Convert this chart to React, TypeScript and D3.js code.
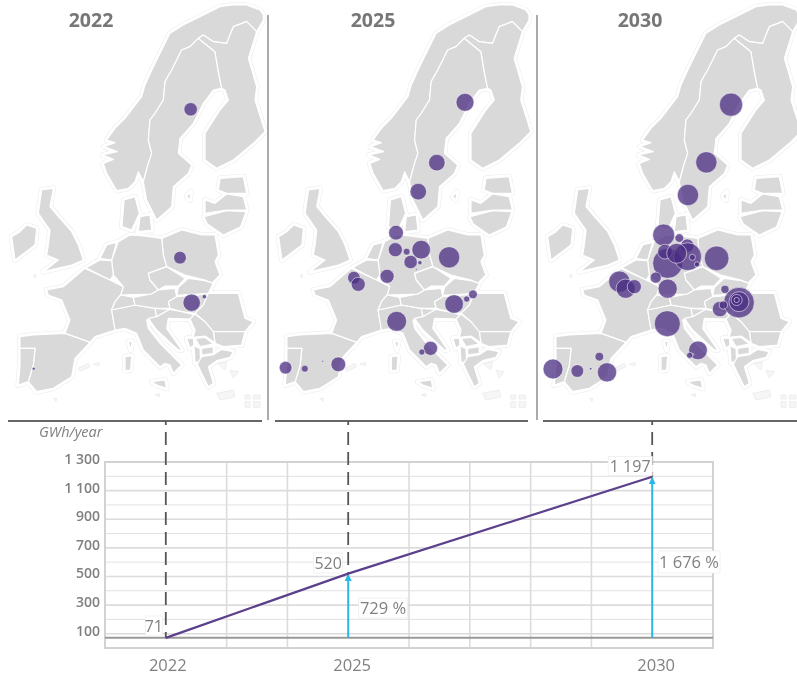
import React from "react";
import * as d3 from "d3";

// ---- chart data ----
const panelYears = ["2022", "2025", "2030"];
const yTicks = [100, 300, 500, 700, 900, 1100, 1300];
const yMinor = [200, 400, 600, 800, 1000, 1200];
const gridYears = [2023, 2024, 2026, 2027, 2028, 2029];
const lineYears = [2022, 2025, 2030];
const lineValues = [71, 520, 1197];
const yearLabels = ["2022", "2025", "2030"];
const valueLabels = ["71", "520", "1 197"];
const growthLabels = ["", "729 %", "1 676 %"];

// map units: sketch coordinates of a schematic map of Europe
type Pt = [number, number];
const norway: Pt[] = [[790,45],[780,30],[740,15],[700,15],[660,20],[600,50],[550,75],[510,100],[475,170],[460,200],[435,255],[425,290],[375,355],[345,385],[320,420],[345,428],[312,440],[352,455],[308,465],[340,478],[310,490],[320,520],[350,572],[385,565],[405,545],[415,515],[430,545],[445,490],[455,460],[445,420],[450,360],[465,340],[490,300],[495,245],[515,210],[545,150],[570,140],[595,115],[610,105],[640,125],[680,130],[700,80],[740,65],[770,95],[790,60]];
const sweden: Pt[] = [[595,115],[570,140],[545,150],[515,210],[495,245],[490,300],[465,340],[450,360],[445,420],[455,460],[445,490],[430,545],[440,600],[460,640],[470,660],[515,620],[520,560],[565,520],[575,495],[535,460],[540,415],[580,370],[610,310],[640,270],[665,265],[655,215],[645,155]];
const finland: Pt[] = [[665,265],[675,270],[685,300],[660,330],[615,400],[615,480],[650,505],[700,480],[760,430],[795,395],[765,300],[770,260],[745,175],[770,95],[740,65],[700,80],[680,130],[640,125],[610,105],[595,115],[645,155],[655,215]];
const estonia: Pt[] = [[660,535],[730,530],[740,580],[680,580],[655,570]];
const latvia: Pt[] = [[615,600],[645,610],[680,582],[730,590],[740,630],[680,630],[615,640]];
const lithuania: Pt[] = [[612,650],[680,632],[738,635],[722,680],[670,705],[622,672]];
const poland: Pt[] = [[485,715],[545,690],[605,705],[645,705],[655,765],[645,785],[660,825],[635,850],[615,840],[555,825],[500,800],[490,765]];
const germany: Pt[] = [[355,725],[390,705],[430,708],[485,715],[490,765],[500,800],[445,820],[450,840],[475,870],[455,882],[362,885],[370,860],[340,825],[335,780]];
const denmark: Pt[] = [[372,600],[405,590],[418,640],[395,690],[366,680]];
const denmarkIsland: Pt[] = [[420,650],[450,645],[455,690],[415,695]];
const netherlands: Pt[] = [[300,775],[320,735],[350,727],[335,780]];
const belgium: Pt[] = [[258,803],[300,780],[335,782],[340,825],[330,840]];
const france: Pt[] = [[140,870],[190,860],[255,805],[330,840],[370,860],[362,885],[345,905],[335,930],[345,990],[285,1010],[270,1027],[195,1000],[210,960],[185,900],[145,885]];
const spain: Pt[] = [[60,1010],[100,1005],[195,1000],[270,1027],[225,1075],[215,1130],[160,1165],[110,1175],[85,1145],[100,1095],[105,1045],[60,1045]];
const portugal: Pt[] = [[60,1045],[105,1045],[100,1095],[85,1145],[55,1155],[60,1095]];
const italy: Pt[] = [[335,930],[405,915],[465,925],[470,950],[440,960],[445,985],[480,1030],[530,1080],[545,1095],[520,1120],[510,1095],[495,1090],[480,1100],[430,1050],[410,1000],[375,985],[345,990]];
const switzerland: Pt[] = [[345,905],[362,885],[400,892],[405,915],[335,930]];
const austria: Pt[] = [[400,892],[455,882],[475,870],[525,865],[530,890],[505,905],[510,925],[465,925],[405,915]];
const czechia: Pt[] = [[445,820],[500,800],[555,835],[535,858],[495,858],[475,870],[450,840]];
const slovakia: Pt[] = [[535,862],[565,835],[615,842],[640,850],[625,880],[595,882],[530,886]];
const hungary: Pt[] = [[530,890],[595,885],[625,880],[610,915],[585,940],[545,935],[510,925],[505,905]];
const romania: Pt[] = [[625,880],[675,880],[715,880],[735,955],[760,965],[735,995],[685,995],[635,995],[615,965],[585,940],[610,915]];
const bulgaria: Pt[] = [[640,995],[735,995],[725,1035],[670,1040],[645,1030]];
const slovenia: Pt[] = [[465,925],[510,928],[470,950]];
const croatia: Pt[] = [[470,950],[510,928],[545,935],[585,945],[570,957],[505,955],[500,985],[545,1050],[535,1050],[470,990],[445,955]];
const serbia: Pt[] = [[570,957],[585,942],[615,965],[640,995],[645,1028],[615,1008],[580,1012],[585,990]];
const montenegro: Pt[] = [[560,1015],[580,1015],[582,1035],[570,1045]];
const kosovo: Pt[] = [[585,1015],[615,1012],[640,1032],[600,1040]];
const albania: Pt[] = [[582,1038],[600,1045],[602,1085],[585,1088]];
const macedonia: Pt[] = [[605,1045],[640,1040],[640,1060],[605,1065]];
const greece: Pt[] = [[605,1070],[640,1064],[665,1048],[700,1055],[690,1072],[650,1082],[625,1100],[640,1150],[625,1160],[605,1120],[592,1092]];
const britain: Pt[] = [[125,570],[160,565],[150,620],[175,650],[215,695],[235,735],[250,780],[215,795],[130,815],[175,780],[140,765],[145,735],[150,690],[115,640]];
const ireland: Pt[] = [[35,710],[60,695],[80,675],[110,685],[105,735],[45,780]];
const sardinia: Pt[] = [[375,1070],[395,1068],[392,1110],[375,1112]];
const corsica: Pt[] = [[385,1025],[397,1025],[392,1050]];
const sicily: Pt[] = [[455,1145],[495,1140],[500,1165],[470,1155]];
const gotland: Pt[] = [[560,590],[572,575],[570,600]];
const countries: Pt[][] = [norway,sweden,finland,estonia,latvia,lithuania,poland,germany,denmark,denmarkIsland,netherlands,belgium,france,spain,portugal,italy,switzerland,austria,czechia,slovakia,hungary,romania,bulgaria,slovenia,croatia,serbia,montenegro,kosovo,albania,macedonia,greece,britain,ireland,sardinia,corsica,sicily,gotland];
const islands: Pt[][] = [
  [[235,1105],[265,1090],[270,1100],[240,1115]],[[280,1092],[298,1088],[296,1098]],
  [[652,1090],[680,1085],[675,1110]],[[690,1110],[715,1115],[700,1135]],[[650,1180],[700,1170],[705,1190],[660,1200]],
  [[735,1185],[750,1185],[750,1197],[735,1197]],[[760,1185],[780,1185],[780,1197],[760,1197]],[[735,1205],[750,1205],[750,1222],[735,1222]],[[760,1205],[780,1205],[780,1222],[760,1222]],
  [[160,1195],[170,1195],[168,1205]],[[100,825],[108,825],[105,835]],[[465,1185],[478,1180],[480,1190]],
];

// sites per panel: [map x, map y, GWh/year]
type Site = [number, number, number];
const sites2022: Site[] = [[572,328,19],[540,773,17],[575,908,32],[613,890,2],[101,1106,1],[448,803,0.1],[545,833,0.1],[158,1072,0.1],[480,1052,0.1]];
const sites2025: Site[] = [[597,307,34],[512,488,29],[456,575,29],[389,698,23],[387,749,21],[421,755,5],[465,749,37],[433,786,19],[461,788,2],[450,808,0.4],[549,772,48],[262,833,17],[275,853,21],[362,829,21],[391,964,42],[564,912,37],[602,897,4],[621,883,8],[493,1045,21],[467,1056,4],[215,1093,23],[114,1106,5],[168,1084,0.4],[56,1103,17]];
const sites2030: Site[] = [[585,314,57],[511,487,48],[456,585,48],[383,705,51],[430,714,8],[454,737,19],[395,790,95],[455,770,82],[387,755,23],[422,760,42],[469,772,4],[483,793,3],[542,775,64],[359,833,13],[250,845,48],[269,866,39],[295,860,21],[395,866,39],[394,971,71],[567,868,7],[552,927,25],[609,908,99],[609,905,42],[602,900,13],[602,900,3],[562,915,7],[486,1051,37],[461,1066,4],[471,1063,0.4],[190,1070,8],[213,1117,39],[164,1106,0.7],[124,1113,17],[51,1107,42]];
const panelSites: Site[][] = [sites2022, sites2025, sites2030];

// ---- layout ----
const W = 797, H = 675;
const panels = [
  { x0: 0, sx: 1 / 3, titleX: 91, ruleA: 8, ruleB: 262 },
  { x0: 267, sx: 0.995 / 3, titleX: 373, ruleA: 275, ruleB: 528 },
  { x0: 536, sx: 1 / 3, titleX: 640, ruleA: 543, ruleB: 797 },
];
const separators = [268, 537];
const GREY = "#808080";
const FONT = "'Open Sans', 'Noto Sans', sans-serif";

const x = d3.scaleLinear().domain([2021, 2031]).range([105, 713]);
const y = d3.scaleLinear().domain([0, 1300]).range([648, 462]);
const r = d3.scaleSqrt().domain([0, 100]).range([0, 15.4]);
const trend = d3.line<number>().x((_, i) => x(lineYears[i])).y((d) => y(d));

function Panel({ idx }: { idx: number }) {
  const p = panels[idx];
  const mx = (v: number) => p.x0 + v * p.sx;
  const my = (v: number) => v / 3;
  const shape = d3.line<Pt>().x((d) => mx(d[0])).y((d) => my(d[1])).curve(d3.curveLinearClosed);
  const paths = countries.map((c) => shape(c) as string);
  const isle = islands.map((c) => shape(c) as string);
  return (
    <g>
      <g fill="none" strokeLinejoin="round" stroke="#eaeaea" strokeWidth={5.6}>
        {paths.map((d, i) => <path key={i} d={d} />)}
      </g>
      <g fill="#fff" strokeLinejoin="round" stroke="#fff" strokeWidth={4.6}>
        {paths.map((d, i) => <path key={i} d={d} />)}
      </g>
      <g fill="#f6f6f6" strokeLinejoin="round" stroke="#e8e8e8" strokeWidth={0.7}>
        {isle.map((d, i) => <path key={i} d={d} />)}
      </g>
      <g fill="#d9d9d9" strokeLinejoin="round" stroke="#fff" strokeWidth={1.2}>
        {paths.map((d, i) => <path key={i} d={d} />)}
      </g>
      {panelSites[idx].map((s, i) => (
        <circle key={i} cx={mx(s[0])} cy={my(s[1])} r={r(s[2])} fill="#4a2c82" fillOpacity={0.75} stroke="#fff" strokeOpacity={0.6} strokeWidth={0.9} />
      ))}
      <text x={p.titleX} y={27} textAnchor="middle" fontFamily={FONT} fontWeight={700} fontSize={19.5} fill="#777">{panelYears[idx]}</text>
      <line x1={p.ruleA} x2={p.ruleB} y1={421} y2={421} stroke="#666" strokeWidth={2} />
    </g>
  );
}

function Label({ cx, cy, w, h, text, size = 16 }: { cx: number; cy: number; w: number; h: number; text: string; size?: number }) {
  return (
    <g>
      <rect x={cx - w / 2} y={cy - h / 2} width={w} height={h} fill="#fff" stroke="#eee" strokeWidth={0.8} />
      <text x={cx} y={cy + size * 0.35} textAnchor="middle" fontFamily={FONT} fontSize={size} fill={GREY}>{text}</text>
    </g>
  );
}

export default function App() {
  const base = y(lineValues[0]);
  return (
    <svg width={W} height={H} viewBox={`0 0 ${W} ${H}`} style={{ position: "absolute", left: 0, top: 0, background: "#fff" }}>
      <defs>
        <filter id="soft" x="-2%" y="-2%" width="104%" height="104%"><feGaussianBlur stdDeviation={0.45} /></filter>
        <marker id="head" viewBox="0 0 10 10" refX={9} refY={5} markerWidth={3.6} markerHeight={3.6} orient="auto">
          <path d="M0,0L10,5L0,10z" fill="#2cb6e8" />
        </marker>
      </defs>
      <g filter="url(#soft)">
        {panels.map((_, i) => <Panel key={i} idx={i} />)}
        {separators.map((s) => <line key={s} x1={s} x2={s} y1={15} y2={420} stroke="#aaa" strokeWidth={2} />)}

        {/* grid */}
        <g stroke="#e2e2e2">
          {yMinor.map((t) => <line key={t} x1={x(2021)} x2={x(2031)} y1={y(t)} y2={y(t)} strokeWidth={1} />)}
          {yTicks.map((t) => <line key={t} x1={x(2021)} x2={x(2031)} y1={y(t)} y2={y(t)} strokeWidth={1.6} stroke="#dcdcdc" />)}
          {gridYears.map((t) => <line key={t} x1={x(t)} x2={x(t)} y1={y(1300)} y2={y(0)} strokeWidth={1.6} stroke="#dcdcdc" />)}
        </g>
        <rect x={x(2021)} y={y(1300)} width={x(2031) - x(2021)} height={y(0) - y(1300)} fill="none" stroke="#d2d2d2" strokeWidth={2} />
        <line x1={x(2021)} x2={x(2031)} y1={base} y2={base} stroke="#999" strokeWidth={2} />

        {/* dashed drop lines */}
        {lineYears.map((yr, i) => (
          <line key={yr} x1={x(yr)} x2={x(yr)} y1={421} y2={y(lineValues[i])} stroke="#555" strokeWidth={1.8} strokeDasharray="13 7" strokeDashoffset={9} />
        ))}

        {/* growth arrows */}
        {lineYears.slice(1).map((yr, i) => (
          <line key={yr} x1={x(yr)} x2={x(yr)} y1={base} y2={y(lineValues[i + 1]) + 1} stroke="#2cb6e8" strokeWidth={2} markerEnd="url(#head)" />
        ))}
        <path d={trend(lineValues) as string} fill="none" stroke="#5b3f8c" strokeWidth={2.2} />

        {/* axes text */}
        {yTicks.map((t) => (
          <text key={t} x={100} y={y(t) + 2} textAnchor="end" fontFamily={FONT} fontWeight={600} fontSize={14} fill={GREY}>
            {d3.format(",")(t).replace(",", " ")}
          </text>
        ))}
        {lineYears.map((yr, i) => (
          <text key={yr} x={x(yr) + (i === 0 ? 2 : 4)} y={671} textAnchor="middle" fontFamily={FONT} fontSize={16.5} fill={GREY}>{yearLabels[i]}</text>
        ))}
        <text x={39} y={437} fontFamily={FONT} fontStyle="italic" fontSize={14.5} fill={GREY}>GWh/year</text>

        <Label cx={x(2022) - 12} cy={626} w={17} h={20} text={valueLabels[0]} />
        <Label cx={x(2025) - 20} cy={563} w={29} h={20} text={valueLabels[1]} />
        <Label cx={x(2030) - 22} cy={466} w={44} h={19} text={valueLabels[2]} />
        <Label cx={383} cy={608} w={49} h={20} text={growthLabels[1]} size={16.5} />
        <Label cx={689} cy={562} w={62} h={22} text={growthLabels[2]} size={16.5} />
      </g>
    </svg>
  );
}
